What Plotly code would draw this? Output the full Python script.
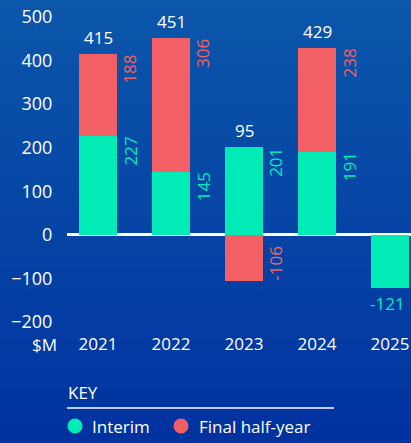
import zlib, struct, base64
import plotly.graph_objects as go

years = ["2021", "2022", "2023", "2024", "2025"]
interim = [227, 145, 201, 191, -121]
final_half = [188, 306, -106, 238, None]
totals = [415, 451, 95, 429, None]
y_ticks = [-200, -100, 0, 100, 200, 300, 400, 500]

GREEN = "#00EBB5"
RED = "#F26065"
FONT = "Open Sans"
FS = 17

W, H = 411, 443
ML, MR, MT, MB = 67, 0, 17, 121
PW, PH = W - ML - MR, H - MT - MB


def px(x):
    return (x - ML) / PW


def py(y):
    return (H - MB - y) / PH


def text_len(s):
    return sum(5.7 if ch == "-" else 9.7 for ch in s)


# vertical gradient background as PNG
def gradient_png(w, h, top, bot):
    raw = b""
    for j in range(h):
        t = j / (h - 1)
        c = bytes(int(round(top[k] + (bot[k] - top[k]) * t)) for k in range(3))
        raw += b"\x00" + c * w
    def chunk(tag, data):
        return struct.pack(">I", len(data)) + tag + data + struct.pack(">I", zlib.crc32(tag + data) & 0xffffffff)
    png = b"\x89PNG\r\n\x1a\n" + chunk(b"IHDR", struct.pack(">IIBBBBB", w, h, 8, 2, 0, 0, 0))
    png += chunk(b"IDAT", zlib.compress(raw)) + chunk(b"IEND", b"")
    return "data:image/png;base64," + base64.b64encode(png).decode()


bg = gradient_png(4, H, (11, 87, 170), (0, 50, 160))

fig = go.Figure()
fig.add_bar(x=years, y=interim, marker_color=GREEN, width=0.52, name="Interim",
            showlegend=False, marker_line_width=0)
fig.add_bar(x=years, y=final_half, marker_color=RED, width=0.52, name="Final half-year",
            showlegend=False, marker_line_width=0)


def side_label(i, end, val, color):
    s = str(val)
    L = text_len(s)
    ys = -(L / 2 + 1) if val >= 0 else (L / 2)
    return dict(x=i + 0.26, y=end, text=s, showarrow=False, textangle=-90,
                xanchor="center", yanchor="middle", xshift=13, yshift=ys,
                font=dict(color=color, size=FS, family=FONT))


ann = []
for i, yr in enumerate(years):
    iv, fv, tv = interim[i], final_half[i], totals[i]
    if tv is not None:
        top = max(iv, iv + (fv if fv and fv > 0 else 0))
        ann.append(dict(x=i, y=top, text=str(tv), showarrow=False, yanchor="bottom",
                        yshift=3, font=dict(color="white", size=FS, family=FONT)))
    if iv >= 0:
        ann.append(side_label(i, iv, iv, GREEN))
    else:
        ann.append(dict(x=i, y=iv, text=str(iv), showarrow=False, yanchor="top", yshift=-2,
                        xshift=-3, font=dict(color=GREEN, size=FS, family=FONT)))
    if fv is not None:
        ann.append(side_label(i, iv + fv if fv >= 0 else fv, fv, RED))

# $M unit label
ann.append(dict(xref="paper", yref="paper", x=px(59), y=py(344), text="$M", showarrow=False,
                xanchor="right", yanchor="middle", font=dict(color="white", size=FS, family=FONT)))
# Key
ann.append(dict(xref="paper", yref="paper", x=px(66), y=py(392), text="KEY", showarrow=False,
                xanchor="left", yanchor="middle", font=dict(color="white", size=FS, family=FONT)))
ann.append(dict(xref="paper", yref="paper", x=px(90), y=py(426), text="Interim", showarrow=False,
                xanchor="left", yanchor="middle", font=dict(color="white", size=FS, family=FONT)))
ann.append(dict(xref="paper", yref="paper", x=px(197), y=py(426), text="Final half-year",
                showarrow=False, xanchor="left", yanchor="middle",
                font=dict(color="white", size=FS, family=FONT)))

shapes = [
    dict(type="line", xref="paper", yref="paper", x0=px(67), x1=px(334), y0=py(408), y1=py(408),
         line=dict(color="white", width=1.5)),
    dict(type="circle", xref="paper", yref="paper", x0=px(67.5), x1=px(82.5), y0=py(418.5),
         y1=py(433.5), fillcolor=GREEN, line=dict(width=0)),
    dict(type="circle", xref="paper", yref="paper", x0=px(173.5), x1=px(188.5), y0=py(418.5),
         y1=py(433.5), fillcolor=RED, line=dict(width=0)),
]

fig.update_layout(
    width=W, height=H, margin=dict(l=ML, r=MR, t=MT, b=MB),
    barmode="relative", bargap=0,
    paper_bgcolor="#0034A0", plot_bgcolor="rgba(0,0,0,0)",
    font=dict(family=FONT, color="white"),
    annotations=ann, shapes=shapes,
    images=[dict(source=bg, xref="paper", yref="paper", x=-ML / PW, y=1 + MT / PH,
                 sizex=W / PW, sizey=H / PH, sizing="stretch", xanchor="left", yanchor="top",
                 layer="below")],
    xaxis=dict(type="category", range=[-0.425, 4.287], showgrid=False, showline=False,
               zeroline=False, ticks="outside", ticklen=7, tickcolor="rgba(0,0,0,0)",
               tickfont=dict(size=FS, color="white", family=FONT)),
    yaxis=dict(range=[-200, 500], tickvals=y_ticks, showgrid=False, showline=False,
               zeroline=True, zerolinecolor="white", zerolinewidth=2.5,
               ticks="outside", ticklen=10, tickcolor="rgba(0,0,0,0)",
               tickfont=dict(size=18, color="white", family=FONT)),
)

fig.write_html("out.html")
